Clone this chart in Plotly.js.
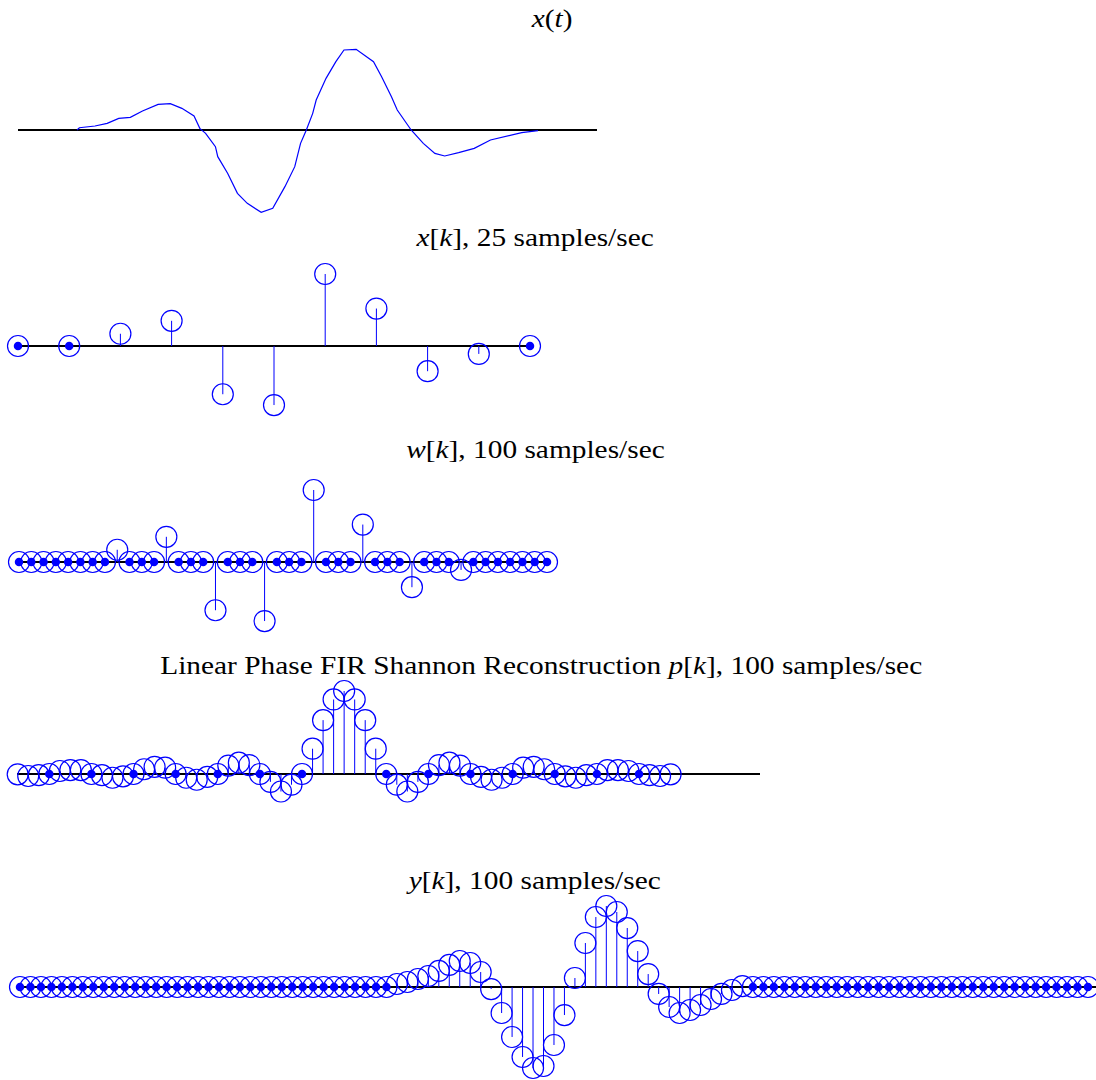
<!DOCTYPE html>
<html>
<head>
<meta charset="utf-8">
<script src="https://cdn.plot.ly/plotly-3.0.1.min.js"></script>
<style>
  html, body { margin: 0; padding: 0; background: #fff; }
  #chart { width: 1096px; height: 1080px; }
  /* the reference titles are set in a slightly widened Times face */
  #chart text.annotation-text {
    transform-box: fill-box;
    transform-origin: center;
    transform: scaleX(1.13);
  }
</style>
</head>
<body>
<div id="chart"></div>
<script>
// ---------- data ----------
// x(t): continuous signal (time in arbitrary units 0..100, amplitude normalised)
const tCont = [10.2, 10.6, 13.3, 15.4, 17.4, 19.4, 21.5, 24.2, 26.3, 28.3, 30.4, 31.4, 32.4, 34.1, 34.5, 36.2, 37.9, 39.6, 42.0, 44.0, 46.1, 47.8, 48.8, 49.8, 50.9, 51.5, 53.2, 54.9, 56.3, 58.4, 61.4, 62.8, 64.5, 65.5, 67.9, 70.0, 72.0, 73.7, 76.1, 78.8, 81.6, 85.0, 87.0, 89.8];
const xCont = [0, 0.028, 0.049, 0.081, 0.142, 0.155, 0.232, 0.313, 0.321, 0.264, 0.171, 0.02, -0.041, -0.203, -0.325, -0.528, -0.772, -0.894, -1.004, -0.955, -0.691, -0.447, -0.163, 0, 0.203, 0.366, 0.630, 0.833, 0.976, 0.984, 0.833, 0.65, 0.406, 0.244, 0, -0.163, -0.285, -0.317, -0.276, -0.224, -0.122, -0.061, -0.032, -0.008];

// x[k], 25 samples/sec
const xk = [0, 0, 0.17, 0.35, -0.67, -0.82, 1.0, 0.52, -0.35, -0.11, 0];

// w[k], 100 samples/sec (44 samples)
const wk = [0, 0, 0, 0, 0, 0, 0, 0, 0.17, 0, 0, 0, 0.35, 0, 0, 0, -0.67, 0, 0, 0, -0.82, 0, 0, 0, 1.0, 0, 0, 0, 0.52, 0, 0, 0, -0.35, 0, 0, 0, -0.11, 0, 0, 0, 0, 0, 0, 0];

// p[k], linear phase FIR (63 taps)
const pk = [-0.004, -0.024, -0.014, 0, 0.036, 0.047, 0.047, 0, -0.014, -0.045, -0.028, 0, 0.057, 0.087, 0.076, 0, -0.045, -0.069, -0.035, 0, 0.102, 0.136, 0.107, 0, -0.095, -0.211, -0.129, 0, 0.305, 0.649, 0.898,
            1.0,
            0.898, 0.649, 0.305, 0, -0.129, -0.211, -0.095, 0, 0.107, 0.136, 0.102, 0, -0.035, -0.069, -0.045, 0, 0.076, 0.087, 0.057, 0, -0.028, -0.045, -0.014, 0, 0.047, 0.047, 0.036, 0, -0.014, -0.024, -0.004];

// y[k], 100 samples/sec (103 samples)
const yk = [0, 0, 0, 0, 0, 0, 0, 0, 0, 0, 0, 0, 0, 0, 0, 0, 0, 0, 0, 0, 0, 0, 0, 0, 0, 0, 0, 0, 0, 0, 0, 0, 0, 0, 0, 0,
            0.037, 0.062, 0.099, 0.136, 0.198, 0.272, 0.321, 0.296, 0.185, -0.025, -0.321, -0.617, -0.864, -1.0, -0.975, -0.716, -0.346,
            0.111, 0.543, 0.864, 1.0, 0.926, 0.728, 0.444, 0.160, -0.086, -0.247, -0.321, -0.284, -0.222, -0.148, -0.086, -0.037, 0.012,
            0, 0, 0, 0, 0, 0, 0, 0, 0, 0, 0, 0, 0, 0, 0, 0, 0, 0, 0, 0, 0, 0, 0, 0, 0, 0, 0, 0, 0, 0, 0, 0, 0];

// titles
const titles = [
  '<i>x</i>(<i>t</i>)',
  '<i>x</i>[<i>k</i>], 25 samples/sec',
  '<i>w</i>[<i>k</i>], 100 samples/sec',
  'Linear Phase FIR Shannon Reconstruction <i>p</i>[<i>k</i>], 100 samples/sec',
  '<i>y</i>[<i>k</i>], 100 samples/sec'
];

// ---------- layout geometry (pixels) ----------
const W = 1096, H = 1080;
const BLUE = '#0000ff';
const panels = [
  {xpx: [18, 597],  xr: [0, 100],          ypx: [30, 230],   zero: 130, scale: 82, title: [551, 18]},
  {xpx: [18, 530],  xr: [0, 10],           ypx: [250, 445],  zero: 346, scale: 72, title: [534, 238]},
  {xpx: [19, 547],  xr: [0, 43],           ypx: [470, 660],  zero: 562, scale: 72, title: [535, 449]},
  {xpx: [17, 760],  xr: [-0.066, 70.49],   ypx: [680, 870],  zero: 774, scale: 83, title: [541, 665]},
  {xpx: [17, 1096], xr: [-0.287, 102.77],  ypx: [890, 1080], zero: 987, scale: 81, title: [533, 880]}
];

function idx(n) { return Array.from({length: n}, (_, i) => i); }

function stemTraces(vals, ax) {
  const k = idx(vals.length);
  const sx = [], sy = [];
  k.forEach(i => { sx.push(i, i, null); sy.push(0, vals[i], null); });
  const zx = k.filter(i => vals[i] === 0);
  const zy = zx.map(() => 0);
  const xa = 'x' + ax, ya = 'y' + ax;
  return [
    {x: sx, y: sy, xaxis: xa, yaxis: ya, mode: 'lines', type: 'scatter',
     line: {color: BLUE, width: 1}, cliponaxis: false, hoverinfo: 'skip'},
    {x: k, y: vals, xaxis: xa, yaxis: ya, mode: 'markers', type: 'scatter',
     marker: {symbol: 'circle-open', size: 21, color: BLUE, line: {color: BLUE, width: 1.2}},
     cliponaxis: false, hoverinfo: 'skip'},
    {x: zx, y: zy, xaxis: xa, yaxis: ya, mode: 'markers', type: 'scatter',
     marker: {symbol: 'circle', size: 8.5, color: BLUE}, cliponaxis: false, hoverinfo: 'skip'}
  ];
}

const data = [
  {x: tCont, y: xCont, xaxis: 'x', yaxis: 'y', mode: 'lines', type: 'scatter',
   line: {color: BLUE, width: 1.2}, cliponaxis: false, hoverinfo: 'skip'},
  ...stemTraces(xk, 2),
  ...stemTraces(wk, 3),
  ...stemTraces(pk, 4),
  ...stemTraces(yk, 5)
];

const layout = {
  width: W, height: H,
  margin: {l: 0, r: 0, t: 0, b: 0},
  paper_bgcolor: '#ffffff',
  plot_bgcolor: 'rgba(0,0,0,0)',
  showlegend: false,
  font: {family: 'Liberation Serif, Times New Roman, serif', color: '#000'},
  annotations: []
};

panels.forEach((p, i) => {
  const n = i === 0 ? '' : String(i + 1);
  const top = (p.zero - p.ypx[0]) / p.scale;
  const bot = -(p.ypx[1] - p.zero) / p.scale;
  layout['xaxis' + n] = {
    domain: [p.xpx[0] / W, p.xpx[1] / W], range: p.xr, anchor: 'y' + n,
    showgrid: false, zeroline: false, showline: false, showticklabels: false, ticks: '', fixedrange: true
  };
  layout['yaxis' + n] = {
    domain: [1 - p.ypx[1] / H, 1 - p.ypx[0] / H], range: [bot, top], anchor: 'x' + n,
    showgrid: false, zeroline: true, zerolinecolor: '#000', zerolinewidth: 1.2,
    showline: false, showticklabels: false, ticks: '', fixedrange: true
  };
  layout.annotations.push({
    text: titles[i], xref: 'paper', yref: 'paper',
    x: p.title[0] / W, y: 1 - p.title[1] / H, xanchor: 'center', yanchor: 'middle',
    showarrow: false, font: {family: 'Liberation Serif, Times New Roman, serif', size: 26, color: '#000'}
  });
});

Plotly.newPlot('chart', data, layout, {displayModeBar: false, staticPlot: true});
</script>
</body>
</html>
